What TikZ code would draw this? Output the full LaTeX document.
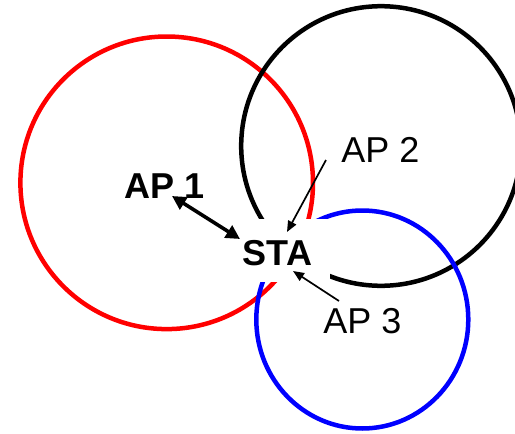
\documentclass[tikz,border=0pt]{standalone}
\usepackage{fontspec}
\setmainfont{Liberation Sans}
\usetikzlibrary{arrows.meta}
\begin{document}
\begin{tikzpicture}[x=1pt,y=-1pt,
  ring/.style={line width=4.5pt},
  lbl/.style={font=\fontsize{36}{40}\selectfont, inner sep=0pt, anchor=base},
  blbl/.style={inner sep=0pt, anchor=base, font=\fontsize{36}{40}\selectfont\bfseries},
  thinarrow/.style={line width=1.7pt, -{Triangle[length=11pt,width=9pt]}},
  thickarrow/.style={line width=3.6pt, {Triangle[length=14pt,width=14pt]}-{Triangle[length=14pt,width=14pt]}}]
\useasboundingbox (0,0) rectangle (515,434);
\clip (0,0) rectangle (515,434);
% coverage circles
\draw[ring, red] (166.7,182.8) circle (146.3pt);
\draw[ring, black] (381,146) circle (139.8pt);
\draw[ring, blue] (362.3,319.5) ellipse [x radius=106pt, y radius=109pt];
% white text box behind STA
\fill[white] (244,219) rectangle (330,282);
% labels
\node[blbl] (ap1) at (165,198) {AP 1};
\node[blbl] (sta) at (277.5,265) {STA};
\node[lbl] (ap2) at (380.5,162) {AP 2};
\node[lbl] (ap3) at (362.5,333) {AP 3};
% connector ends
\coordinate (ap1e) at (172,196);
\coordinate (stae1) at (240,239);
\coordinate (ap2e) at (326,160);
\coordinate (stae2) at (287,232);
\coordinate (ap3e) at (339,301);
\coordinate (stae3) at (293,271);
\draw[thickarrow] (ap1e) -- (stae1);
\draw[thinarrow] (ap2e) -- (stae2);
\draw[thinarrow] (ap3e) -- (stae3);
\end{tikzpicture}
\end{document}
